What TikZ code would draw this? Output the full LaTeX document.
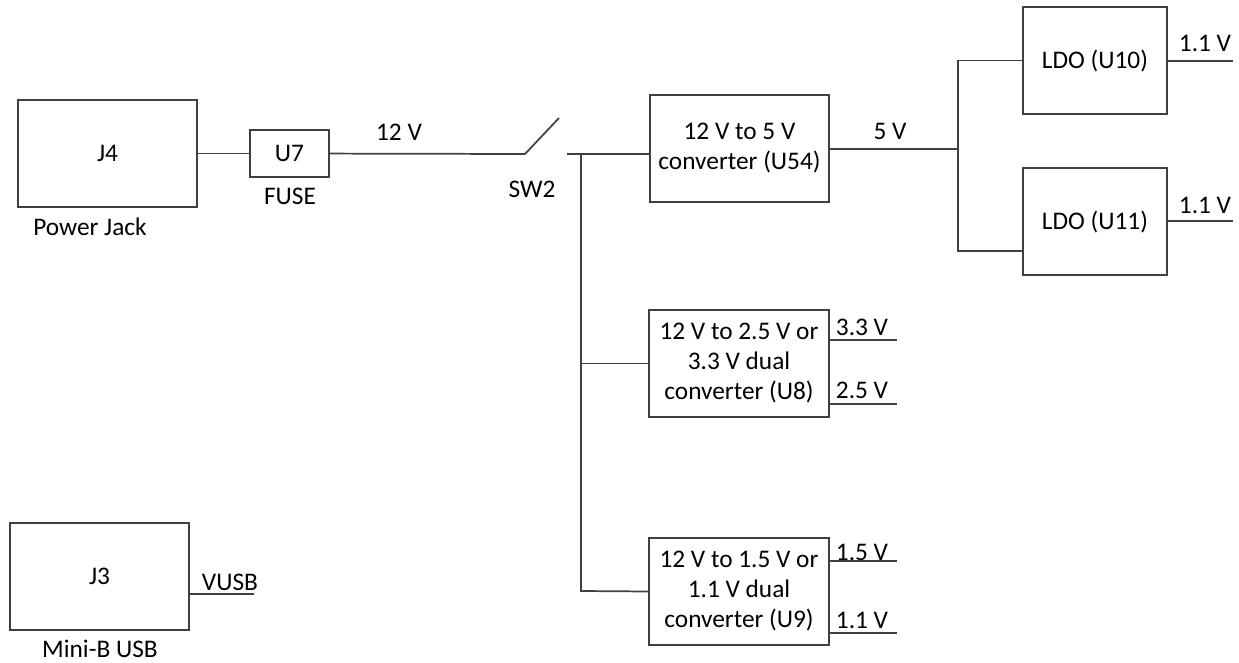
\documentclass[tikz,border=0pt]{standalone}
\usepackage{fontspec}
\setmainfont{Carlito}
\definecolor{ln}{HTML}{404040}
\begin{document}
\begin{tikzpicture}[x=0.75pt,y=-0.75pt,
  every node/.style={font=\fontsize{19}{22.5}\selectfont, text=black},
  blk/.style={draw=ln, line width=1.3pt, align=center, inner sep=0pt, minimum width=134.25pt, minimum height=80.25pt},
  wire/.style={draw=ln, line width=1.3pt},
  lbl/.style={inner sep=0pt}]
\useasboundingbox (0,0) rectangle (1239,663);
% blocks
\node[blk] (J4) at (107.5,153.5) {J4};
\node[blk, minimum width=59.25pt, minimum height=35.25pt] (U7) at (289.5,153.5) {U7};
\node[blk] (U54) at (739.5,148.5) {12 V to 5 V\\converter (U54)};
\node[blk, minimum width=108pt] (U10) at (1095,60.5) {LDO (U10)};
\node[blk, minimum width=108pt] (U11) at (1095,221.5) {LDO (U11)};
\node[blk, minimum width=135pt] (U8) at (739,363.5) {12 V to 2.5 V or\\3.3 V dual\\converter (U8)};
\node[blk, minimum width=135pt] (U9) at (739,591.5) {12 V to 1.5 V or\\1.1 V dual\\converter (U9)};
\node[blk] (J3) at (99.5,576.5) {J3};
% labels
\node[lbl] (pj) at (90,227) {Power Jack};
\node[lbl] (fuse) at (290,196) {FUSE};
\node[lbl] (v12) at (399,132) {12 V};
\node[lbl] (sw2) at (532,189) {SW2};
\node[lbl] (v5) at (890,131) {5 V};
\node[lbl] (l10) at (1205,43) {1.1 V};
\node[lbl] (l11) at (1205,205) {1.1 V};
\node[lbl] (l33) at (862,327) {3.3 V};
\node[lbl] (l25) at (862,390) {2.5 V};
\node[lbl] (l15) at (862,552) {1.5 V};
\node[lbl] (l11b) at (862,620) {1.1 V};
\node[lbl] (vusb) at (230,582) {VUSB};
\node[lbl] (mb) at (100,649) {Mini-B USB};
% coordinates
\coordinate (swL) at (525,154);
\coordinate (swT) at (559,118);
\coordinate (swR) at (567,154);
\coordinate (busT) at (581,154);
\coordinate (busB) at (581,591);
\coordinate (j5) at (958,149);
\coordinate (u11in) at (1023,251);
\coordinate (o10) at (1233,61);
\coordinate (o11) at (1233,221);
\coordinate (o33) at (897,340);
\coordinate (o25) at (897,404);
\coordinate (o15) at (897,561);
\coordinate (o11b) at (897,633);
\coordinate (ousb) at (254,594);
% wires
\draw[wire] (J4) -- (U7);
\draw[wire] (U7) -- (swL) -- (swT);
\draw[wire] (swR) -- (U54.west |- swR);
\draw[wire] (busT) -- (busB) -- (U9.west);
\draw[wire] (U8.west) -- (U8.west -| busT);
\draw[wire] (U54.east |- j5) -- (j5);
\draw[wire] (U10.west) -| (j5) |- (u11in);
\draw[wire] (U10.east |- o10) -- (o10);
\draw[wire] (U11.east |- o11) -- (o11);
\draw[wire] (U8.east |- o33) -- (o33);
\draw[wire] (U8.east |- o25) -- (o25);
\draw[wire] (U9.east |- o15) -- (o15);
\draw[wire] (U9.east |- o11b) -- (o11b);
\draw[wire] (J3.east |- ousb) -- (ousb);
\end{tikzpicture}
\end{document}
